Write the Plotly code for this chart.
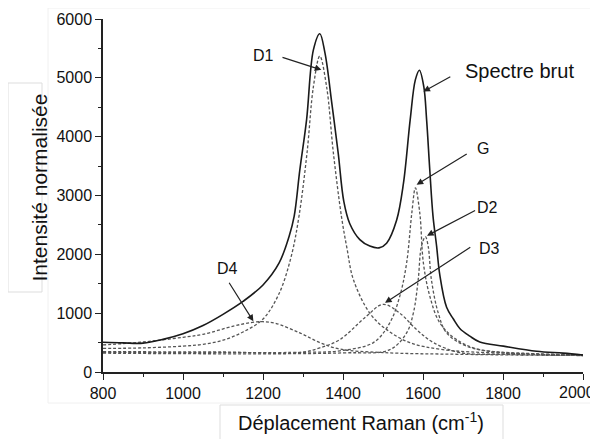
import plotly.graph_objects as go

# ---- data (Raman shift in cm-1, normalised intensity) ----
raw_x = [800, 850, 900, 950, 1000, 1050, 1100, 1150, 1200, 1240, 1265, 1278, 1292, 1309, 1326,
         1342, 1355, 1372, 1388, 1402, 1417, 1442, 1467, 1490, 1509, 1534, 1551, 1568, 1581,
         1591, 1602, 1609, 1617, 1625, 1634, 1642, 1659, 1676, 1692, 1717, 1742, 1801, 1884,
         1950, 2000]
raw_y = [505, 495, 490, 555, 650, 790, 980, 1200, 1480, 1850, 2300, 2650, 3430, 4290, 5475,
         5750, 5420, 4570, 3720, 2900, 2520, 2250, 2140, 2110, 2190, 2580, 3200, 4290, 4970,
         5130, 4850, 4290, 3430, 2650, 2140, 1650, 1100, 900, 740, 610, 510, 440, 353,
         320, 290]

d1_x = [800, 900, 1000, 1050, 1100, 1150, 1200, 1240, 1270, 1290, 1310, 1326, 1342, 1359,
        1376, 1396, 1410, 1426, 1467, 1509, 1567, 1650, 1800, 2000]
d1_y = [400, 410, 440, 470, 540, 680, 900, 1330, 1950, 2650, 3720, 4850, 5370, 4850,
        3720, 2650, 2100, 1570, 1000, 720, 500, 380, 320, 290]

d4_x = [800, 900, 1000, 1050, 1126, 1170, 1200, 1230, 1292, 1342, 1392, 1500, 1700, 2000]
d4_y = [460, 510, 590, 640, 780, 840, 855, 830, 665, 500, 390, 330, 300, 280]

d3_x = [800, 1100, 1292, 1342, 1392, 1459, 1500, 1542, 1584, 1626, 1692, 1800, 2000]
d3_y = [345, 340, 330, 410, 550, 950, 1150, 1000, 720, 500, 330, 300, 280]

g_x = [800, 1300, 1392, 1476, 1517, 1542, 1559, 1572, 1581, 1592, 1601, 1617, 1642, 1684,
       1742, 1850, 2000]
g_y = [335, 335, 360, 500, 835, 1290, 1850, 2700, 3130, 2700, 1850, 1290, 835, 550,
       380, 320, 290]

d2_x = [800, 1400, 1517, 1559, 1576, 1588, 1596, 1606, 1613, 1621, 1638, 1659, 1709, 1800, 2000]
d2_y = [320, 325, 380, 665, 1005, 1570, 2136, 2300, 2136, 1570, 1005, 665, 440, 330, 290]

x_ticks = [800, 1000, 1200, 1400, 1600, 1800, 2000]
y_ticks = [0, 1000, 2000, 3000, 4000, 5000, 6000]

# labels: (text, x, y) and arrows: (tail_x, tail_y, head_x, head_y)
labels = [("D1", 1200, 5374), ("Spectre brut", 1840, 5110), ("G", 1750, 3795),
          ("D2", 1760, 2793), ("D3", 1765, 2097), ("D4", 1111, 1757)]
arrows = [(1245, 5357, 1346, 5136), (1672, 5034, 1601, 4767), (1713, 3722, 1584, 3183),
          (1734, 2759, 1610, 2317), (1722, 2136, 1505, 1175), (1113, 1542, 1176, 862)]

FONT = "Liberation Sans, Arial, Helvetica, sans-serif"
OFF = 8                      # the page body has an 8px margin
W, H = 598 - OFF, 439 - OFF
L, R, T, B = 103 - OFF, 15, 19 - OFF, 67

fig = go.Figure()
for xs, ys in [(d1_x, d1_y), (d4_x, d4_y), (d3_x, d3_y), (g_x, g_y), (d2_x, d2_y)]:
    fig.add_trace(go.Scatter(x=xs, y=ys, mode="lines", line_shape="spline",
                             line=dict(color="#555555", width=1.3, dash="3px,2px"),
                             showlegend=False, hoverinfo="skip"))
fig.add_trace(go.Scatter(x=raw_x, y=raw_y, mode="lines", line_shape="spline",
                         line=dict(color="#1a1a1a", width=1.6),
                         showlegend=False, hoverinfo="skip"))

for text, x, y in labels:
    size = 20 if text == "Spectre brut" else 16
    fig.add_annotation(x=x, y=y, text=text, showarrow=False,
                       font=dict(family=FONT, size=size, color="#111"))
for tx, ty, hx, hy in arrows:
    fig.add_annotation(x=hx, y=hy, ax=tx, ay=ty, axref="x", ayref="y", text="",
                       showarrow=True, arrowhead=2, arrowsize=1.1, arrowwidth=1.2,
                       arrowcolor="#222")

pw, ph = W - L - R, H - T - B
def px(xp):
    # window pixel -> paper x
    return (xp - OFF - L) / pw
def py(yp):
    # window pixel -> paper y
    return (H - B - (yp - OFF)) / ph

# faint frame of the pasted picture
fig.add_shape(type="rect", xref="paper", yref="paper", x0=px(48), x1=px(598), y0=py(403), y1=py(8),
              line=dict(color="#f0f0f0", width=1), layer="below")
# axis title boxes
fig.add_shape(type="rect", xref="paper", yref="paper", x0=px(8), x1=px(42), y0=py(292), y1=py(83),
              line=dict(color="#dddddd", width=1))
fig.add_shape(type="rect", xref="paper", yref="paper", x0=px(220), x1=px(503), y0=py(445), y1=py(405),
              line=dict(color="#dddddd", width=1))
fig.add_annotation(xref="paper", yref="paper", x=px(25), y=py(188), text="Intensité normalisée",
                   textangle=-90, showarrow=False, font=dict(family=FONT, size=21, color="#111"))
fig.add_annotation(xref="paper", yref="paper", x=px(361), y=py(407), yanchor="top",
                   text="Déplacement Raman (cm<sup>-1</sup>)",
                   showarrow=False, font=dict(family=FONT, size=20, color="#111"))

# last x tick label sits slightly left of its tick so it fits in the picture
x_ticktext = [str(v) for v in x_ticks[:-1]] + [""]
fig.add_annotation(xref="paper", yref="paper", x=px(597), y=py(382), xanchor="right", yanchor="top",
                   text=str(x_ticks[-1]), showarrow=False,
                   font=dict(family=FONT, size=16, color="#111"))

axis_common = dict(showgrid=False, zeroline=False, showline=True, linecolor="#222", linewidth=1.5,
                   ticks="outside", ticklen=6, tickwidth=1.3, tickcolor="#222",
                   ticklabeloverflow="allow", automargin=False,
                   tickfont=dict(family=FONT, size=16, color="#111"))
fig.update_xaxes(range=[800, 2000], tickvals=x_ticks, ticktext=x_ticktext,
                 minor=dict(dtick=100, ticks="outside", ticklen=3, tickwidth=1.2, tickcolor="#222"),
                 **axis_common)
fig.update_yaxes(range=[0, 6000], tickvals=y_ticks, ticktext=[str(v) for v in y_ticks],
                 minor=dict(dtick=500, ticks="outside", ticklen=3, tickwidth=1.2, tickcolor="#222"),
                 **axis_common)
fig.update_layout(width=W, height=H, margin=dict(l=L, r=R, t=T, b=B, autoexpand=False),
                  plot_bgcolor="white", paper_bgcolor="white", showlegend=False)
fig.write_html("out.html")
